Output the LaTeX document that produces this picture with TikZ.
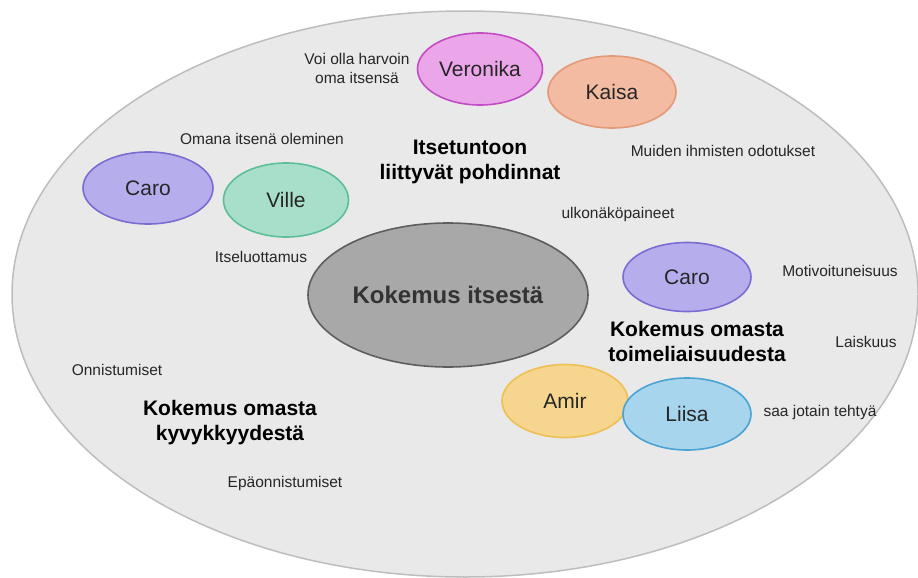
\documentclass[tikz,border=0pt]{standalone}
\usepackage{fontspec}
\setmainfont{Liberation Sans}
\usetikzlibrary{shapes.geometric}

\definecolor{bgFill}{HTML}{E9E9E9}
\definecolor{bgLine}{HTML}{BDBDBD}
\definecolor{coreFill}{HTML}{A8A8A8}
\definecolor{coreLine}{HTML}{5E5E5E}
\definecolor{verFill}{HTML}{EBA5E9}
\definecolor{verLine}{HTML}{C34BC4}
\definecolor{kaiFill}{HTML}{F2BBA2}
\definecolor{kaiLine}{HTML}{E39A77}
\definecolor{caroFill}{HTML}{B6AEEC}
\definecolor{caroLine}{HTML}{7B6BD2}
\definecolor{vilFill}{HTML}{A8DFCB}
\definecolor{vilLine}{HTML}{5CBF99}
\definecolor{amiFill}{HTML}{F6D58E}
\definecolor{amiLine}{HTML}{EDBF55}
\definecolor{liiFill}{HTML}{A7D5EE}
\definecolor{liiLine}{HTML}{4BA3D3}

\begin{document}
\begin{tikzpicture}[x=1pt,y=-1pt,
        person/.style 2 args={ellipse, fill=#1, draw=#2, line width=1.6pt, minimum width=128pt, minimum height=72pt, inner sep=0pt, text=black!85, font=\fontsize{21}{24}\selectfont},
        note/.style={align=center, text=black!85, font=\fontsize{15.5}{19}\selectfont},
        theme/.style={align=center, font=\bfseries\fontsize{21}{25}\selectfont}]
        \useasboundingbox (0,0) rectangle (918,578);

        \node[ellipse, fill=bgFill, draw=bgLine, line width=1.5pt, minimum width=906pt, minimum height=566pt] (kaikki) at (465,294) {};

        \node[person={verFill}{verLine}, minimum width=125pt] (veronika) at (480,69) {Veronika};
        \node[person={kaiFill}{kaiLine}] (kaisa) at (612,92) {Kaisa};
        \node[person={caroFill}{caroLine}, minimum width=130pt] (caroA) at (148,188) {Caro};
        \node[person={vilFill}{vilLine}, minimum width=125pt, minimum height=74pt] (ville) at (286,200) {Ville};
        \node[person={caroFill}{caroLine}, minimum height=69pt] (caroB) at (687,277) {Caro};
        \node[person={amiFill}{amiLine}, minimum width=126pt, minimum height=73pt] (amir) at (565,401) {Amir};
        \node[person={liiFill}{liiLine}] (liisa) at (687,414) {Liisa};

        \node[ellipse, fill=coreFill, draw=coreLine, line width=1.6pt, minimum width=280pt, minimum height=144pt, inner sep=0pt, text=black!80, font=\bfseries\fontsize{24}{28}\selectfont] (itse) at (448,295) {Kokemus itsestä};

        \node[note] (harvoin) at (357,68) {Voi olla harvoin\\oma itsensä};
        \node[note] (omana) at (262,139) {Omana itsenä oleminen};
        \node[theme] (pohdinnat) at (470,162) {Itsetuntoon\\liittyvät pohdinnat};
        \node[note] (odotukset) at (723,151) {Muiden ihmisten odotukset};
        \node[note] (ulkonako) at (618,214) {ulkonäköpaineet};
        \node[note] (luottamus) at (261,257) {Itseluottamus};
        \node[note] (motivaatio) at (840,271) {Motivoituneisuus};
        \node[theme] (toimeliaisuus) at (697,341) {Kokemus omasta\\toimeliaisuudesta};
        \node[note] (laiskuus) at (866,342) {Laiskuus};
        \node[note] (tehtya) at (820,412) {saa jotain tehtyä};
        \node[note] (onnistumiset) at (117,370) {Onnistumiset};
        \node[theme] (kyvykkyys) at (230,423) {Kokemus omasta\\kyvykkyydestä};
        \node[note] (epaonnistumiset) at (285,483) {Epäonnistumiset};

    \end{tikzpicture}
\end{document}
